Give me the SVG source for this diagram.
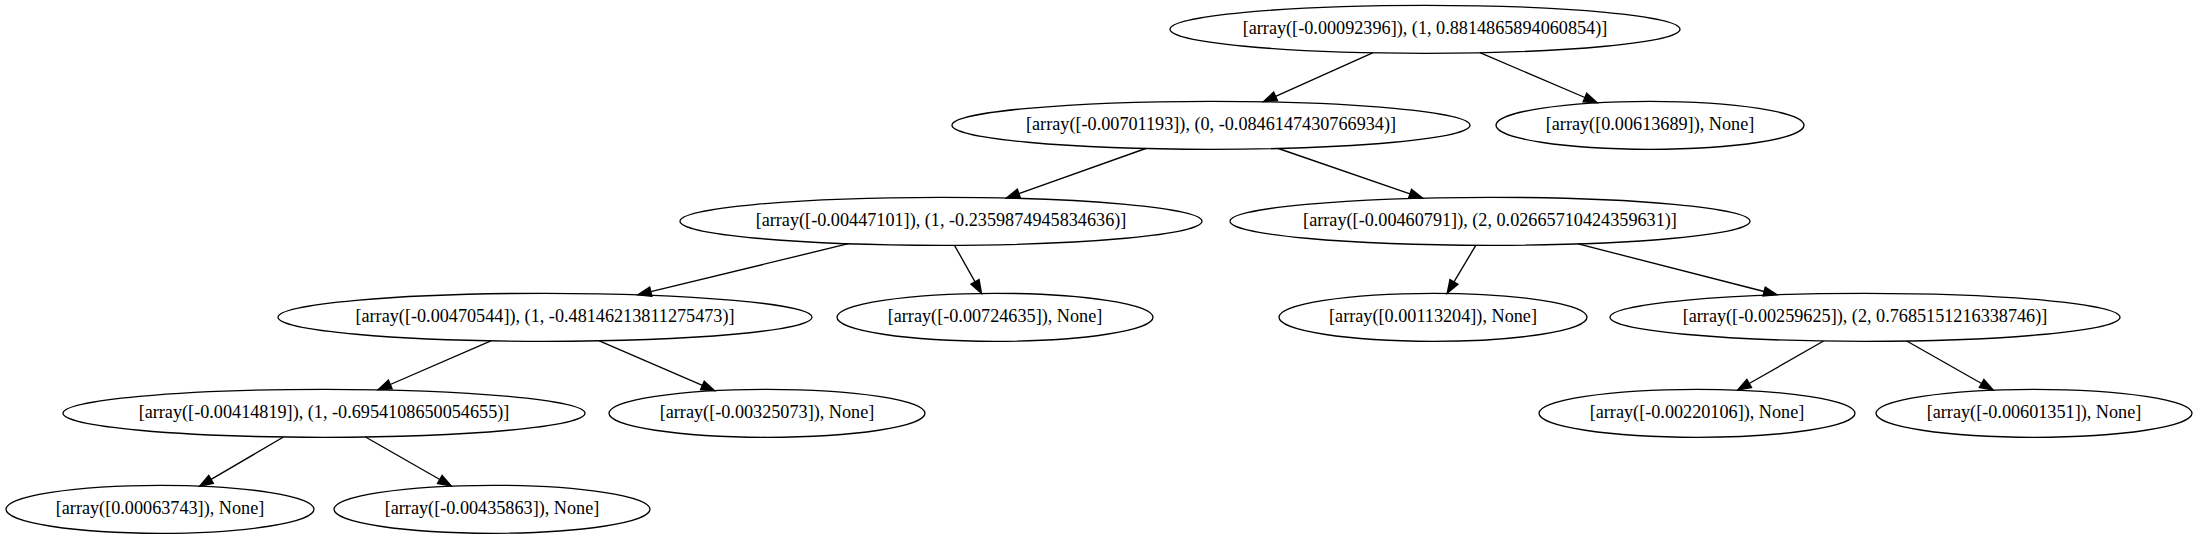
<svg xmlns="http://www.w3.org/2000/svg" width="2198" height="539" viewBox="0 0 2198 539">
<style>
.node ellipse{fill:none;stroke:#000;stroke-width:1.33}
.node text{font-family:"Liberation Serif","Times New Roman",serif;font-size:18.2px;text-anchor:middle;fill:#000}
.edge{fill:none;stroke:#000;stroke-width:1.33}
</style>
<defs>
<marker id="arr" markerUnits="userSpaceOnUse" markerWidth="16" markerHeight="12" refX="0" refY="6" orient="auto" overflow="visible">
<path d="M0,1.33 L13.33,6 L0,10.67 z" fill="#000" stroke="#000" stroke-width="1.33"/>
</marker>
</defs>
<rect width="2198" height="539" fill="#fff"/>
<g id="edges">
<path class="edge" marker-end="url(#arr)" d="M1372.6,52.8 L1275.6,96.3"/>
<path class="edge" marker-end="url(#arr)" d="M1479.9,52.7 L1584.9,97.5"/>
<path class="edge" marker-end="url(#arr)" d="M1145.7,148.5 L1018.9,193.6"/>
<path class="edge" marker-end="url(#arr)" d="M1278.4,148.5 L1410.0,193.8"/>
<path class="edge" marker-end="url(#arr)" d="M848.4,243.7 L650.8,291.7"/>
<path class="edge" marker-end="url(#arr)" d="M954.5,245.3 L975.0,281.8"/>
<path class="edge" marker-end="url(#arr)" d="M1475.8,245.3 L1454.0,281.9"/>
<path class="edge" marker-end="url(#arr)" d="M1578.2,243.9 L1764.1,291.5"/>
<path class="edge" marker-end="url(#arr)" d="M490.9,340.8 L390.3,384.5"/>
<path class="edge" marker-end="url(#arr)" d="M599.3,340.8 L702.4,385.4"/>
<path class="edge" marker-end="url(#arr)" d="M1823.6,341.0 L1749.2,383.5"/>
<path class="edge" marker-end="url(#arr)" d="M1906.7,341.0 L1981.6,383.5"/>
<path class="edge" marker-end="url(#arr)" d="M283.5,437.0 L211.1,479.4"/>
<path class="edge" marker-end="url(#arr)" d="M365.5,437.0 L439.8,479.5"/>
</g>
<g id="node0" class="node"><ellipse cx="1425" cy="29.3" rx="255" ry="24"/><text x="1425" y="34.3">[array([-0.00092396]), (1, 0.8814865894060854)]</text></g>
<g id="node1" class="node"><ellipse cx="1211" cy="125.3" rx="259" ry="24"/><text x="1211" y="130.3">[array([-0.00701193]), (0, -0.0846147430766934)]</text></g>
<g id="node2" class="node"><ellipse cx="1650" cy="125.3" rx="154" ry="24"/><text x="1650" y="130.3">[array([0.00613689]), None]</text></g>
<g id="node3" class="node"><ellipse cx="941" cy="221.3" rx="261" ry="24"/><text x="941" y="226.3">[array([-0.00447101]), (1, -0.2359874945834636)]</text></g>
<g id="node4" class="node"><ellipse cx="1490" cy="221.3" rx="260" ry="24"/><text x="1490" y="226.3">[array([-0.00460791]), (2, 0.02665710424359631)]</text></g>
<g id="node5" class="node"><ellipse cx="545" cy="317.3" rx="267" ry="24"/><text x="545" y="322.3">[array([-0.00470544]), (1, -0.48146213811275473)]</text></g>
<g id="node6" class="node"><ellipse cx="995" cy="317.3" rx="158" ry="24"/><text x="995" y="322.3">[array([-0.00724635]), None]</text></g>
<g id="node7" class="node"><ellipse cx="1433" cy="317.3" rx="154" ry="24"/><text x="1433" y="322.3">[array([0.00113204]), None]</text></g>
<g id="node8" class="node"><ellipse cx="1865" cy="317.3" rx="255" ry="24"/><text x="1865" y="322.3">[array([-0.00259625]), (2, 0.7685151216338746)]</text></g>
<g id="node9" class="node"><ellipse cx="324" cy="413.3" rx="261" ry="24"/><text x="324" y="418.3">[array([-0.00414819]), (1, -0.6954108650054655)]</text></g>
<g id="node10" class="node"><ellipse cx="767" cy="413.3" rx="158" ry="24"/><text x="767" y="418.3">[array([-0.00325073]), None]</text></g>
<g id="node11" class="node"><ellipse cx="1697" cy="413.3" rx="158" ry="24"/><text x="1697" y="418.3">[array([-0.00220106]), None]</text></g>
<g id="node12" class="node"><ellipse cx="2034" cy="413.3" rx="158" ry="24"/><text x="2034" y="418.3">[array([-0.00601351]), None]</text></g>
<g id="node13" class="node"><ellipse cx="160" cy="509.3" rx="154" ry="24"/><text x="160" y="514.3">[array([0.00063743]), None]</text></g>
<g id="node14" class="node"><ellipse cx="492" cy="509.3" rx="158" ry="24"/><text x="492" y="514.3">[array([-0.00435863]), None]</text></g>
</svg>
